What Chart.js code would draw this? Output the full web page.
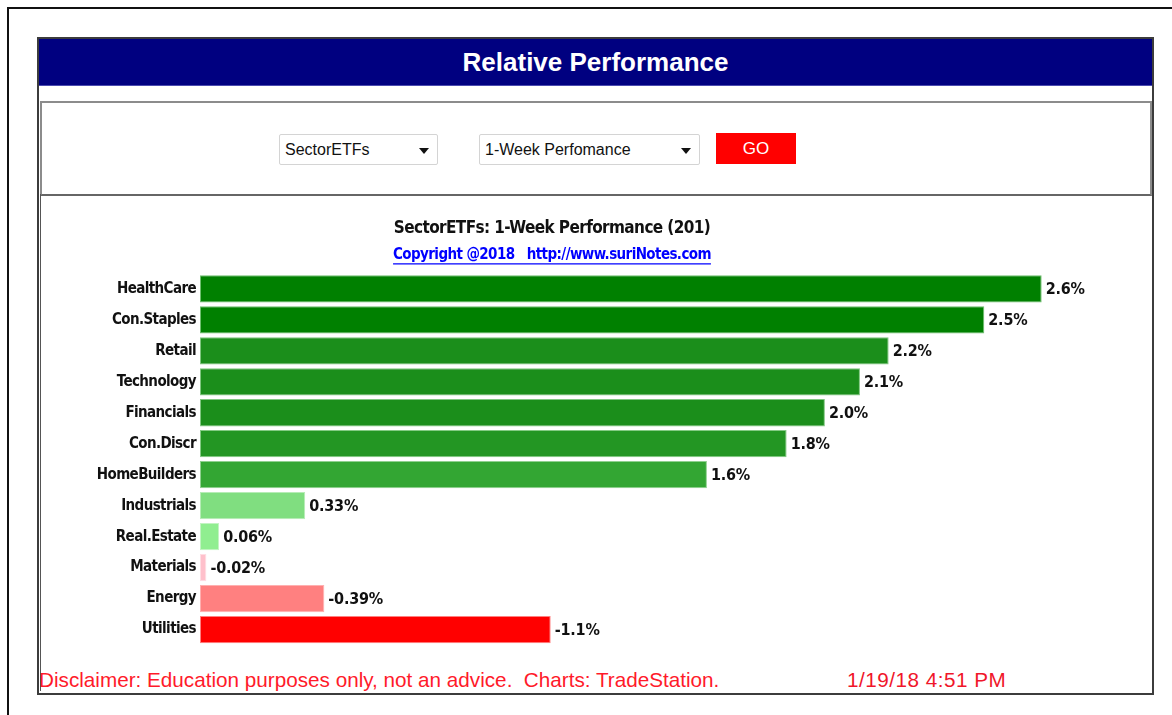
<!DOCTYPE html>
<html>
<head>
<meta charset="utf-8">
<script src="https://cdn.jsdelivr.net/npm/chart.js@4/dist/chart.umd.min.js"></script>
<style>
  html, body { margin: 0; padding: 0; background: #fff; width: 1172px; height: 715px; overflow: hidden; font-family: "Liberation Sans", Arial, sans-serif; }
  .outer { position: absolute; left: 7px; top: 7px; width: 1170px; height: 720px; border-left: 2px solid #111; border-top: 2px solid #111; }
  .panel { position: absolute; left: 37px; top: 37px; width: 1113px; height: 654px; border: 2px solid #3c3c3c; background: #fff; }
  .header { position: absolute; left: 0; top: 0; width: 1113px; height: 46px; background: #000080; color: #fff; font: bold 26px "Liberation Sans", Arial, sans-serif; text-align: center; line-height: 46px; border-bottom: 1px solid #4b4bb0; }
  .controls { position: absolute; left: 1px; top: 62px; width: 1108px; height: 91px; border: 2px solid #8c8c8c; border-bottom-color: #666; }
  .sel { position: absolute; top: 31px; height: 31px; border: 1px solid #d4d4d4; border-radius: 2px; background: #fff; font: 16px "Liberation Sans", Arial, sans-serif; color: #111; line-height: 30px; padding-left: 5px; box-sizing: border-box; }
  .sel .arr { position: absolute; right: 8px; top: 13px; width: 0; height: 0; border-left: 5px solid transparent; border-right: 5px solid transparent; border-top: 6px solid #111; }
  .go { position: absolute; left: 674px; top: 30px; width: 80px; height: 31px; background: #ff0000; color: #fff; font: 17px "Liberation Sans", Arial, sans-serif; text-align: center; line-height: 31px; }
  .chartbox { position: absolute; left: 1px; top: 155px; width: 1110px; height: 497px; border-left: 1px solid #555; }
  #c { position: absolute; left: 1px; top: 159px; }
  .disc { position: absolute; left: 0px; top: 629px; font: 20.7px "Liberation Sans", Arial, sans-serif; color: #ff1a2a; white-space: pre; }
  .date { position: absolute; left: 808px; top: 629px; font: 20.7px "Liberation Sans", Arial, sans-serif; color: #f0162a; letter-spacing: 0.5px; white-space: pre; }
</style>
</head>
<body>
<div class="outer"></div>
<div class="panel">
  <div class="header">Relative Performance</div>
  <div class="controls">
    <div class="sel" style="left:237px;width:159px;">SectorETFs<span class="arr"></span></div>
    <div class="sel" style="left:437px;width:221px;">1-Week Perfomance<span class="arr"></span></div>
    <div class="go">GO</div>
  </div>
  <div class="chartbox"></div>
  <canvas id="c" width="1110" height="460"></canvas>
  <div class="disc">Disclaimer: Education purposes only, not an advice.  Charts: TradeStation.</div>
  <div class="date">1/19/18 4:51 PM</div>
</div>
<script>
// ---- data ----
const categories = ["HealthCare", "Con.Staples", "Retail", "Technology", "Financials", "Con.Discr",
                    "HomeBuilders", "Industrials", "Real.Estate", "Materials", "Energy", "Utilities"];
const performance = [2.64, 2.46, 2.16, 2.07, 1.96, 1.84, 1.59, 0.33, 0.06, -0.02, -0.39, -1.10];
const barColors = ["#008000", "#008000", "#1b8e1b", "#1b8e1b", "#1b8e1b", "#239623",
                   "#33a633", "#80de80", "#90ee90", "#ffc0cb", "#ff8080", "#ff0000"];
const borderColors = ["#6fbf6f", "#6fbf6f", "#7fc67f", "#7fc67f", "#7fc67f", "#84ca84",
                      "#8fd08f", "#b6ecb6", "#c2f4c2", "#ffdde3", "#ffb0b0", "#ff8080"];
const chartTitle = "SectorETFs: 1-Week Performance (201)";
const chartSubtitle = "Copyright @2018   http://www.suriNotes.com";

const condensed = "'Liberation Sans Narrow', 'DejaVu Sans Condensed', 'Roboto Condensed', sans-serif";
const tightSpacing = "-0.6px";

function fmt(v) {
  return (Math.abs(v) >= 1 ? v.toFixed(1) : v.toFixed(2)) + "%";
}

const spacingPlugin = {
  id: "tightText",
  beforeDraw(chart) {
    if ("letterSpacing" in chart.ctx) chart.ctx.letterSpacing = tightSpacing;
  }
};

const valueLabelPlugin = {
  id: "valueLabels",
  afterDatasetsDraw(chart) {
    const ctx = chart.ctx;
    const meta = chart.getDatasetMeta(0);
    ctx.save();
    if ("letterSpacing" in ctx) ctx.letterSpacing = "-0.2px";
    ctx.font = "bold 16px " + condensed;
    ctx.fillStyle = "#111";
    ctx.textBaseline = "middle";
    ctx.textAlign = "left";
    meta.data.forEach((bar, i) => {
      ctx.fillText(fmt(performance[i]), bar.x + 4, bar.y + 1);
    });
    ctx.restore();
  }
};

const underlinePlugin = {
  id: "underlineSubtitle",
  afterDraw(chart) {
    const box = chart.boxes.find(b => b.options && b.options.text === chartSubtitle);
    if (!box) return;
    const ctx = chart.ctx;
    const o = box.options;
    const size = o.font.size;
    const lh = size * 1.2;
    ctx.save();
    ctx.font = "bold " + size + "px " + condensed;
    if ("letterSpacing" in ctx) ctx.letterSpacing = tightSpacing;
    const w = ctx.measureText(chartSubtitle).width;
    const cx = (box.left + box.right) / 2;
    const cy = box.top + o.padding.top + lh / 2;
    ctx.strokeStyle = o.color;
    ctx.lineWidth = 1.2;
    ctx.beginPath();
    ctx.moveTo(cx - w / 2, cy + size * 0.5 + 1);
    ctx.lineTo(cx + w / 2, cy + size * 0.5 + 1);
    ctx.stroke();
    ctx.restore();
  }
};

new Chart(document.getElementById("c"), {
  type: "bar",
  data: {
    labels: categories,
    datasets: [{
      data: performance.map(v => Math.abs(v)),
      backgroundColor: barColors,
      borderColor: borderColors,
      borderWidth: 1,
      borderSkipped: false,
      barPercentage: 0.88,
      categoryPercentage: 1.0
    }]
  },
  options: {
    indexAxis: "y",
    responsive: false,
    animation: false,
    layout: { padding: { left: 0, right: 86, top: 0, bottom: 7 } },
    plugins: {
      legend: { display: false },
      tooltip: { enabled: false },
      title: {
        display: true,
        text: chartTitle,
        color: "#111",
        font: { family: condensed, size: 17, weight: "bold" },
        padding: { top: 20, bottom: 5 }
      },
      subtitle: {
        display: true,
        text: chartSubtitle,
        color: "#0000ff",
        font: { family: condensed, size: 15, weight: "bold" },
        padding: { top: 3, bottom: 9 }
      }
    },
    scales: {
      x: { display: false, min: 0, max: 2.71 },
      y: {
        grid: { display: false, drawTicks: false },
        border: { display: false },
        ticks: { color: "#111", padding: 4, font: { family: condensed, size: 15, weight: "bold" } },
        afterFit(scale) { scale.width = 160; }
      }
    }
  },
  plugins: [spacingPlugin, valueLabelPlugin, underlinePlugin]
});
</script>
</body>
</html>
